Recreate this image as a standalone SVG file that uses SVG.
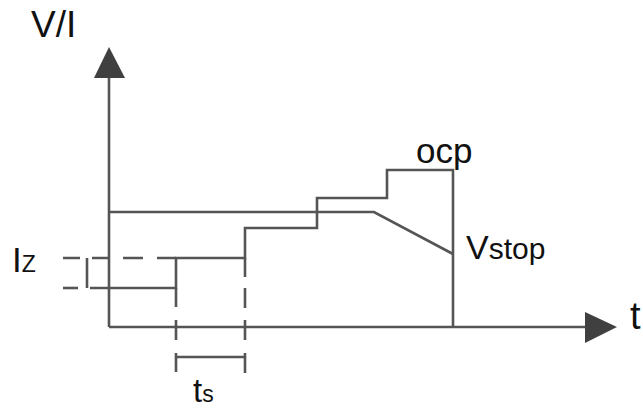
<svg xmlns="http://www.w3.org/2000/svg" width="643" height="409" viewBox="0 0 643 409">
<style>
.ln{fill:none;stroke:#555;stroke-width:2.6;stroke-linejoin:miter}
.ah{fill:#404040}
text{font-family:"Liberation Sans",Arial,sans-serif;fill:#111}
</style>
<rect width="643" height="409" fill="#fff"/>
<g id="axes">
<line class="ln" x1="109" y1="70" x2="109" y2="327"/>
<line class="ln" x1="109" y1="327" x2="590" y2="327"/>
<polygon class="ah" points="109,47 125,78 94,78"/>
<polygon class="ah" points="617,327 585,312 585,343"/>
</g>
<g id="connectors">
<!-- V line -->
<polyline class="ln" points="109,212 374,212 453,254"/>
<!-- ocp stepped current line -->
<polyline class="ln" points="90,288 176,288 176,258 245,258 245,228 317,228 317,198 387,198 387,170 453,170 453,327"/>
<!-- dashed extensions -->
<line class="ln" x1="63" y1="258" x2="176" y2="258" stroke-dasharray="17 12 16 15 20 14 19"/>
<line class="ln" x1="63" y1="288" x2="78" y2="288"/>
<line class="ln" x1="87" y1="258" x2="87" y2="288"/>
<line class="ln" x1="176" y1="288" x2="176" y2="372" stroke-dasharray="19 13 20 13 19"/>
<line class="ln" x1="245" y1="258" x2="245" y2="373" stroke-dasharray="19 11 20 12 20 13 20"/>
<line class="ln" x1="176" y1="357" x2="245" y2="357"/>
</g>
<g id="labels">
<text x="31" y="37" font-size="37">V/I</text>
<text x="416" y="163" font-size="35">ocp</text>
<text x="466" y="259" font-size="34">V<tspan font-size="30">stop</tspan></text>
<text x="12" y="272" font-size="35">I<tspan font-size="23">Z</tspan></text>
<text x="630" y="329" font-size="38">t</text>
<text x="193" y="402" font-size="33">t<tspan font-size="23">s</tspan></text>
</g>
</svg>
